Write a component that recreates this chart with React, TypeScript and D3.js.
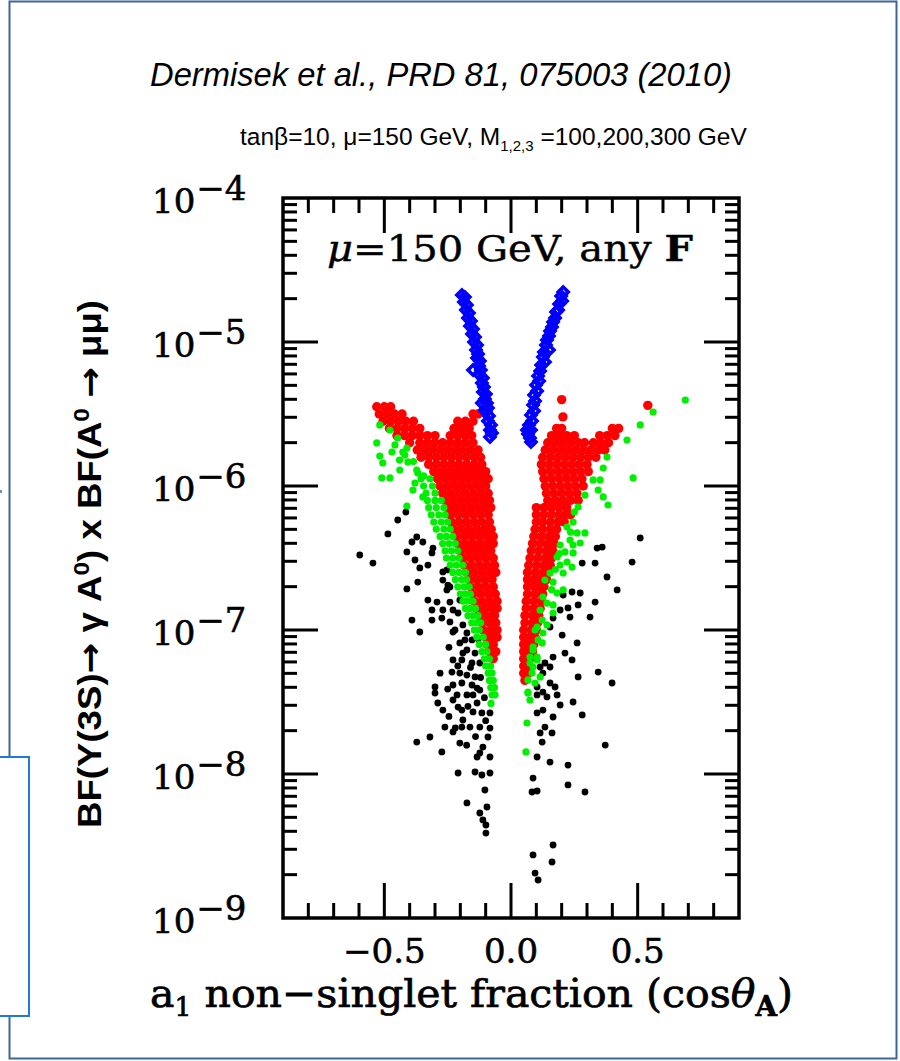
import React from 'react';
import * as d3 from 'd3';

// Each point: [cosθ_A, log10 of BF(Υ(3S)→γA0)×BF(A0→μμ)]
type Pt = [number, number];
// Dense bands are listed row by row: [log10 BF, cosθ_A values in that row]
type Row = [number, number[]];

// mu = 150 GeV scan, branch with the largest rates (blue diamonds)
const blueLeft: Pt[] = [
  [-0.194, -4.674], [-0.182, -4.688], [-0.186, -4.722], [-0.174, -4.743], [-0.178, -4.778],
  [-0.166, -4.799], [-0.170, -4.833], [-0.158, -4.854], [-0.162, -4.889], [-0.150, -4.910],
  [-0.154, -4.944], [-0.142, -4.965], [-0.146, -5.0], [-0.134, -5.021], [-0.138, -5.056],
  [-0.130, -5.083], [-0.134, -5.111], [-0.123, -5.132], [-0.126, -5.167], [-0.150, -5.194],
  [-0.119, -5.194], [-0.123, -5.229], [-0.111, -5.25], [-0.115, -5.285], [-0.107, -5.313],
  [-0.111, -5.347], [-0.099, -5.361], [-0.103, -5.396], [-0.115, -5.424], [-0.095, -5.424],
  [-0.091, -5.458], [-0.099, -5.486], [-0.087, -5.514], [-0.091, -5.549], [-0.079, -5.576],
  [-0.083, -5.611], [-0.075, -5.632], [-0.083, -5.660], [-0.103, -5.472],
];
const blueRight: Pt[] = [
  [0.206, -4.653], [0.198, -4.681], [0.202, -4.715], [0.190, -4.736], [0.186, -4.778],
  [0.178, -4.792], [0.174, -4.833], [0.166, -4.861], [0.162, -4.896], [0.154, -4.924],
  [0.150, -4.958], [0.142, -4.986], [0.138, -5.021], [0.150, -5.056], [0.130, -5.069],
  [0.126, -5.104], [0.134, -5.139], [0.119, -5.160], [0.115, -5.201], [0.107, -5.236],
  [0.111, -5.271], [0.099, -5.299], [0.103, -5.340], [0.091, -5.368], [0.095, -5.410],
  [0.087, -5.438], [0.091, -5.479], [0.079, -5.507], [0.083, -5.549], [0.071, -5.576],
  [0.079, -5.611], [0.067, -5.639], [0.075, -5.667], [0.079, -5.694], [0.063, -5.611],
];

// red points
const redLeftRows: Row[] = [
  [-5.45, [-0.53, -0.50, -0.475]],
  [-5.50, [-0.52, -0.49, -0.46, -0.43, -0.15, -0.13]],
  [-5.55, [-0.505, -0.475, -0.445, -0.415, -0.385, -0.21, -0.18, -0.15]],
  [-5.60, [-0.48, -0.45, -0.42, -0.39, -0.36, -0.225, -0.195, -0.165]],
  [-5.65, [-0.45, -0.42, -0.39, -0.36, -0.33, -0.30, -0.24, -0.21, -0.18, -0.155]],
  [-5.70, [-0.40, -0.36, -0.33, -0.30, -0.27, -0.24, -0.21, -0.18, -0.15]],
  [-5.75, [-0.37, -0.34, -0.31, -0.28, -0.25, -0.22, -0.19, -0.16, -0.13]],
  [-5.80, [-0.355, -0.325, -0.295, -0.265, -0.235, -0.205, -0.175, -0.145, -0.12]],
  [-5.85, [-0.325, -0.295, -0.265, -0.235, -0.205, -0.175, -0.145, -0.115]],
  [-5.90, [-0.305, -0.275, -0.245, -0.215, -0.185, -0.155, -0.125, -0.10]],
  [-5.95, [-0.29, -0.26, -0.23, -0.20, -0.17, -0.14, -0.11, -0.09]],
  [-6.00, [-0.28, -0.25, -0.22, -0.19, -0.16, -0.13, -0.10]],
  [-6.05, [-0.27, -0.24, -0.21, -0.18, -0.15, -0.12, -0.09]],
  [-6.10, [-0.26, -0.23, -0.20, -0.17, -0.14, -0.11, -0.085]],
  [-6.15, [-0.25, -0.22, -0.19, -0.16, -0.13, -0.10, -0.08]],
  [-6.20, [-0.24, -0.21, -0.18, -0.15, -0.12, -0.09]],
  [-6.25, [-0.235, -0.205, -0.175, -0.145, -0.115, -0.085]],
  [-6.30, [-0.225, -0.195, -0.165, -0.135, -0.105, -0.078]],
  [-6.35, [-0.215, -0.185, -0.155, -0.125, -0.095, -0.07]],
  [-6.40, [-0.21, -0.18, -0.15, -0.12, -0.09, -0.07]],
  [-6.45, [-0.20, -0.17, -0.14, -0.11, -0.08]],
  [-6.50, [-0.19, -0.16, -0.13, -0.10, -0.07]],
  [-6.55, [-0.185, -0.155, -0.125, -0.095, -0.065]],
  [-6.60, [-0.175, -0.145, -0.115, -0.085, -0.06]],
  [-6.65, [-0.165, -0.135, -0.105, -0.075]],
  [-6.70, [-0.16, -0.13, -0.10, -0.07]],
  [-6.75, [-0.15, -0.12, -0.09, -0.062]],
  [-6.80, [-0.145, -0.115, -0.085, -0.055]],
  [-6.85, [-0.135, -0.105, -0.075, -0.055]],
  [-6.90, [-0.125, -0.095, -0.065]],
  [-6.95, [-0.115, -0.085, -0.06]],
  [-7.00, [-0.11, -0.08, -0.055]],
  [-7.05, [-0.10, -0.075, -0.055]],
  [-7.10, [-0.095, -0.07]],
  [-7.15, [-0.085, -0.06]],
  [-7.20, [-0.07]],
];
const redRightRows: Row[] = [
  [-5.40, [0.20]],
  [-5.44, [0.54]],
  [-5.52, [0.205]],
  [-5.60, [0.18, 0.20, 0.40, 0.425]],
  [-5.65, [0.16, 0.19, 0.22, 0.25, 0.35, 0.38, 0.41]],
  [-5.70, [0.145, 0.175, 0.205, 0.235, 0.265, 0.29, 0.325, 0.355, 0.385]],
  [-5.75, [0.135, 0.165, 0.195, 0.225, 0.255, 0.285, 0.315, 0.345, 0.37]],
  [-5.80, [0.125, 0.155, 0.185, 0.215, 0.245, 0.275, 0.305, 0.335]],
  [-5.85, [0.12, 0.15, 0.18, 0.21, 0.24, 0.27, 0.30]],
  [-5.90, [0.125, 0.155, 0.185, 0.215, 0.245, 0.275, 0.305]],
  [-5.95, [0.13, 0.16, 0.19, 0.22, 0.25, 0.28]],
  [-6.00, [0.135, 0.165, 0.195, 0.225, 0.255, 0.285]],
  [-6.05, [0.14, 0.17, 0.20, 0.23, 0.26]],
  [-6.10, [0.145, 0.175, 0.205, 0.235, 0.265]],
  [-6.15, [0.10, 0.13, 0.16, 0.19, 0.22]],
  [-6.20, [0.10, 0.13, 0.16, 0.19, 0.215, 0.235]],
  [-6.25, [0.10, 0.125, 0.155, 0.185, 0.21]],
  [-6.30, [0.095, 0.125, 0.155, 0.18]],
  [-6.35, [0.09, 0.12, 0.15, 0.175]],
  [-6.40, [0.085, 0.115, 0.145, 0.17]],
  [-6.45, [0.08, 0.11, 0.14, 0.165]],
  [-6.50, [0.075, 0.105, 0.135, 0.16]],
  [-6.55, [0.07, 0.10, 0.13, 0.155]],
  [-6.60, [0.065, 0.095, 0.125, 0.145]],
  [-6.65, [0.065, 0.09, 0.115, 0.14]],
  [-6.70, [0.065, 0.09, 0.115, 0.13]],
  [-6.75, [0.065, 0.095, 0.125]],
  [-6.80, [0.06, 0.09, 0.12]],
  [-6.85, [0.06, 0.09, 0.115]],
  [-6.90, [0.055, 0.085, 0.11]],
  [-6.95, [0.055, 0.085, 0.105]],
  [-7.00, [0.05, 0.08, 0.10]],
  [-7.05, [0.05, 0.075, 0.095]],
  [-7.10, [0.05, 0.075, 0.09]],
  [-7.15, [0.05, 0.075, 0.085]],
  [-7.20, [0.05, 0.075]],
  [-7.25, [0.05, 0.072]],
  [-7.30, [0.05, 0.068]],
  [-7.35, [0.055]],
];

// green points
const greenLeftRows: Row[] = [
  [-5.95, [-0.355, -0.32]],
  [-6.00, [-0.345, -0.31]],
  [-6.05, [-0.335, -0.30]],
  [-6.10, [-0.33, -0.30, -0.275]],
  [-6.15, [-0.325, -0.295, -0.265]],
  [-6.20, [-0.315, -0.285, -0.26]],
  [-6.25, [-0.305, -0.275, -0.25]],
  [-6.30, [-0.295, -0.265, -0.24]],
  [-6.35, [-0.28, -0.255, -0.23]],
  [-6.40, [-0.27, -0.245, -0.22]],
  [-6.45, [-0.26, -0.235, -0.21]],
  [-6.50, [-0.255, -0.23, -0.205]],
  [-6.55, [-0.24, -0.215, -0.19]],
  [-6.60, [-0.23, -0.205, -0.18]],
  [-6.65, [-0.22, -0.195, -0.175]],
  [-6.70, [-0.21, -0.185, -0.165]],
  [-6.75, [-0.20, -0.18, -0.16]],
  [-6.80, [-0.19, -0.17, -0.15]],
  [-6.85, [-0.18, -0.16, -0.14]],
  [-6.90, [-0.17, -0.15, -0.13]],
  [-6.95, [-0.155, -0.135, -0.12]],
  [-7.00, [-0.145, -0.125]],
  [-7.05, [-0.135, -0.11]],
  [-7.10, [-0.125, -0.10]],
  [-7.15, [-0.115, -0.095]],
  [-7.20, [-0.105, -0.085]],
  [-7.25, [-0.10, -0.08]],
  [-7.30, [-0.09, -0.075]],
  [-7.35, [-0.085, -0.07]],
  [-7.40, [-0.08, -0.065]],
  [-7.45, [-0.075, -0.063]],
  [-7.51, [-0.079]],
];
const greenLeft: Pt[] = [
  [-0.518, -5.576], [-0.530, -5.701], [-0.518, -5.792], [-0.506, -5.840], [-0.510, -5.944],
  [-0.478, -5.944], [-0.470, -5.764], [-0.447, -5.667], [-0.411, -5.736], [-0.419, -5.785],
  [-0.439, -5.889], [-0.407, -5.833], [-0.372, -5.889], [-0.379, -5.979], [-0.387, -6.028],
  [-0.411, -6.139], [-0.348, -6.076], [-0.478, -5.611], [-0.458, -5.715], [-0.427, -5.764],
  [-0.368, -5.910], [-0.385, -5.83], [-0.345, -5.93], [-0.44, -5.82],
];
const greenRight: Pt[] = [
  [0.688, -5.403], [0.561, -5.486], [0.510, -5.576], [0.458, -5.681], [0.482, -5.944],
  [0.379, -5.799], [0.364, -5.875], [0.352, -5.958], [0.324, -5.958], [0.292, -6.063],
  [0.344, -6.028], [0.364, -6.076], [0.383, -6.132], [0.265, -6.146], [0.245, -6.250],
  [0.221, -6.285], [0.261, -6.326], [0.292, -6.326], [0.233, -6.375], [0.194, -6.410],
  [0.245, -6.410], [0.273, -6.396], [0.213, -6.458], [0.245, -6.465], [0.182, -6.493],
  [0.221, -6.528], [0.194, -6.549], [0.241, -6.563], [0.154, -6.604], [0.206, -6.604],
  [0.166, -6.667], [0.134, -6.653], [0.206, -6.722], [0.182, -6.743], [0.126, -6.771],
  [0.142, -6.813], [0.166, -6.826], [0.115, -6.861], [0.166, -6.882], [0.123, -6.931],
  [0.142, -6.965], [0.095, -7.0], [0.126, -7.021], [0.107, -7.069], [0.087, -7.118],
  [0.123, -7.090], [0.075, -7.188], [0.103, -7.188], [0.087, -7.257], [0.115, -7.326],
  [0.067, -7.347], [0.095, -7.368], [0.067, -7.438], [0.075, -7.486], [0.063, -7.646],
  [0.059, -7.847], [0.103, -6.979], [0.087, -7.139], [0.075, -7.229], [0.103, -7.208],
  [0.083, -7.299], [0.067, -7.431], [0.25, -6.18], [0.235, -6.32], [0.19, -6.47],
  [0.175, -6.58], [0.16, -6.72],
];

// black points
const blackLeft: Pt[] = [
  [-0.597, -6.479], [-0.545, -6.535], [-0.486, -6.333], [-0.447, -6.236], [-0.415, -6.181],
  [-0.411, -6.458], [-0.391, -6.389], [-0.372, -6.354], [-0.348, -6.389], [-0.308, -6.431],
  [-0.312, -6.465], [-0.379, -6.514], [-0.360, -6.569], [-0.328, -6.549], [-0.368, -6.667],
  [-0.411, -6.715], [-0.269, -6.597], [-0.269, -6.653], [-0.241, -6.701], [-0.253, -6.722],
  [-0.328, -6.792], [-0.292, -6.806], [-0.241, -6.806], [-0.202, -6.792], [-0.312, -6.861],
  [-0.269, -6.861], [-0.229, -6.861], [-0.209, -6.882], [-0.391, -6.931], [-0.312, -6.931],
  [-0.273, -6.917], [-0.360, -7.014], [-0.253, -6.583], [-0.249, -6.688], [-0.241, -6.944],
  [-0.190, -6.965], [-0.229, -7.014], [-0.174, -7.021], [-0.154, -7.069], [-0.202, -7.090],
  [-0.174, -7.139], [-0.190, -7.160], [-0.229, -7.208], [-0.154, -7.229], [-0.233, -7.292],
  [-0.202, -7.299], [-0.174, -7.313], [-0.142, -7.326], [-0.300, -7.396], [-0.300, -7.438],
  [-0.229, -7.382], [-0.194, -7.368], [-0.154, -7.382], [-0.134, -7.403], [-0.213, -7.451],
  [-0.174, -7.451], [-0.150, -7.451], [-0.123, -7.417], [-0.289, -7.507], [-0.229, -7.486],
  [-0.209, -7.535], [-0.134, -7.507], [-0.269, -7.556], [-0.150, -7.569], [-0.115, -7.576],
  [-0.083, -7.576], [-0.190, -7.625], [-0.261, -7.674], [-0.194, -7.674], [-0.162, -7.674],
  [-0.123, -7.674], [-0.083, -7.681], [-0.229, -7.708], [-0.091, -7.743], [-0.372, -7.778],
  [-0.320, -7.743], [-0.202, -7.785], [-0.273, -7.847], [-0.111, -7.813], [-0.134, -7.882],
  [-0.083, -7.882], [-0.209, -7.993], [-0.142, -7.986], [-0.115, -8.007], [-0.083, -7.993],
  [-0.103, -8.111], [-0.174, -8.201], [-0.095, -8.229], [-0.123, -8.271], [-0.111, -8.319],
  [-0.099, -8.354], [-0.099, -8.410], [-0.221, -7.0], [-0.194, -7.208], [-0.123, -7.229],
  [-0.142, -7.160], [-0.194, -7.556], [-0.123, -7.854], [-0.182, -7.069], [-0.245, -7.12],
  [-0.21, -7.25], [-0.16, -7.26], [-0.12, -7.33], [-0.105, -7.47], [-0.245, -7.60],
  [-0.17, -7.53], [-0.10, -7.63], [-0.14, -7.74], [-0.175, -7.80], [-0.25, -7.41],
  [-0.28, -7.30], [-0.13, -7.06], [-0.22, -7.68],
];
const blackRight: Pt[] = [
  [0.510, -6.361], [0.478, -6.528], [0.340, -6.431], [0.360, -6.424], [0.281, -6.535],
  [0.332, -6.535], [0.379, -6.632], [0.419, -6.722], [0.241, -6.736], [0.273, -6.743],
  [0.206, -6.757], [0.332, -6.806], [0.265, -6.826], [0.225, -6.847], [0.194, -6.861],
  [0.233, -6.910], [0.312, -6.910], [0.166, -6.917], [0.154, -6.979], [0.202, -7.035],
  [0.261, -7.090], [0.213, -7.160], [0.241, -7.208], [0.166, -7.188], [0.134, -7.229],
  [0.154, -7.257], [0.115, -7.257], [0.126, -7.299], [0.265, -7.326], [0.344, -7.292],
  [0.399, -7.368], [0.154, -7.368], [0.174, -7.396], [0.103, -7.396], [0.126, -7.431],
  [0.182, -7.451], [0.103, -7.451], [0.142, -7.465], [0.245, -7.500], [0.194, -7.521],
  [0.103, -7.576], [0.126, -7.556], [0.281, -7.590], [0.166, -7.604], [0.134, -7.674],
  [0.115, -7.715], [0.162, -7.715], [0.123, -7.778], [0.372, -7.799], [0.103, -7.882],
  [0.154, -7.917], [0.225, -7.938], [0.225, -8.076], [0.087, -8.028], [0.083, -8.125],
  [0.103, -8.118], [0.292, -8.125], [0.087, -8.562], [0.166, -8.493], [0.162, -8.611],
  [0.095, -8.688], [0.107, -8.736],
];

const xTickValues = [-0.5, 0, 0.5];
const xTickLabels = ['\u22120.5', '0.0', '0.5'];
const yDecadeExponents = [-4, -5, -6, -7, -8, -9];

const fromRows = (rows: Row[]): Pt[] =>
  rows.flatMap(([e, xs]) => xs.map((v) => [v, e] as Pt));

const PLOT = { left: 283, right: 739, top: 198, bottom: 918 };
const SERIF = "'DejaVu Serif', serif";
const SANS = "'Liberation Sans', Arial, sans-serif";
const ARROW = "'DejaVu Sans', sans-serif";

export default function App() {
  const x = d3.scaleLinear().domain([-0.9, 0.9]).range([PLOT.left, PLOT.right]);
  const y = d3.scaleLog().domain([1e-9, 1e-4]).range([PLOT.bottom, PLOT.top]);
  const px = (p: Pt) => x(p[0]);
  const py = (p: Pt) => y(Math.pow(10, p[1]));

  const black = [...blackLeft, ...blackRight];
  const red = [...fromRows(redLeftRows), ...fromRows(redRightRows)];
  const green = [...fromRows(greenLeftRows), ...greenLeft, ...greenRight];
  const blue = [...blueLeft, ...blueRight];
  const diamond = d3.symbol().type(d3.symbolSquare).size(50)() as string;

  const yMinor = d3.range(-9, -4).flatMap((k) => d3.range(2, 10).map((m) => m * Math.pow(10, k)));
  const yMajor = d3.range(-8, -4).map((k) => Math.pow(10, k));
  const xMinor = d3.range(-8, 9).filter((i) => i % 5 !== 0).map((i) => i / 10);

  const MAJ = 35;
  const MIN = 14;

  return (
    <svg width={900} height={1061} style={{ position: 'absolute', left: 0, top: 0, background: '#fff' }}>
      <rect x={0} y={0} width={900} height={1061} fill="#fff" />
      {/* slide frame */}
      <rect x={9.5} y={1.5} width={887} height={1057} fill="none" stroke="#3f6699" strokeWidth={2} />
      <rect x={-2} y={757} width={31} height={259} fill="#fff" stroke="#1f7bd0" strokeWidth={2} />
      <rect x={0} y={490} width={2} height={3} fill="#6f8fb8" />

      {/* header */}
      <text x={150} y={86} fontFamily={SANS} fontStyle="italic" fontSize={33} textLength={582} lengthAdjust="spacingAndGlyphs">
        Dermisek et al., PRD 81, 075003 (2010)
      </text>
      <text x={240} y={145} fontFamily={SANS} fontSize={24.5}>
        tanβ=10, μ=150 GeV, M<tspan fontSize={15} dy={6}>1,2,3</tspan>
        <tspan fontSize={24.5} dy={-6}> =100,200,300 GeV</tspan>
      </text>

      {/* points */}
      <g fill="#000">
        {black.map((p, i) => <circle key={`k${i}`} cx={px(p)} cy={py(p)} r={3.4} />)}
      </g>
      <g fill="#ff0000">
        {red.map((p, i) => <circle key={`r${i}`} cx={px(p)} cy={py(p)} r={4.7} />)}
      </g>
      <g fill="#00ee00">
        {green.map((p, i) => <circle key={`g${i}`} cx={px(p)} cy={py(p)} r={3.6} />)}
      </g>
      <g fill="none" stroke="#0000ff" strokeWidth={3.6}>
        {blue.map((p, i) => (
          <path key={`b${i}`} d={diamond} transform={`translate(${px(p)},${py(p)}) rotate(45)`} />
        ))}
      </g>

      {/* axes frame and ticks */}
      <g stroke="#000" strokeWidth={3} fill="none">
        {yMinor.map((v, i) => (
          <g key={`ym${i}`}>
            <line x1={PLOT.left} x2={PLOT.left + MIN} y1={y(v)} y2={y(v)} />
            <line x1={PLOT.right} x2={PLOT.right - MIN} y1={y(v)} y2={y(v)} />
          </g>
        ))}
        {yMajor.map((v, i) => (
          <g key={`yM${i}`}>
            <line x1={PLOT.left} x2={PLOT.left + MAJ} y1={y(v)} y2={y(v)} />
            <line x1={PLOT.right} x2={PLOT.right - MAJ} y1={y(v)} y2={y(v)} />
          </g>
        ))}
        {xMinor.map((v, i) => (
          <g key={`xm${i}`}>
            <line x1={x(v)} x2={x(v)} y1={PLOT.bottom} y2={PLOT.bottom - MIN - 1} />
            <line x1={x(v)} x2={x(v)} y1={PLOT.top} y2={PLOT.top + MIN + 1} />
          </g>
        ))}
        {xTickValues.map((v, i) => (
          <g key={`xM${i}`}>
            <line x1={x(v)} x2={x(v)} y1={PLOT.bottom} y2={PLOT.bottom - MAJ} />
            <line x1={x(v)} x2={x(v)} y1={PLOT.top} y2={PLOT.top + MAJ} />
          </g>
        ))}
        <rect x={PLOT.left} y={PLOT.top} width={PLOT.right - PLOT.left} height={PLOT.bottom - PLOT.top} strokeWidth={3.5} />
      </g>

      {/* y tick labels */}
      {yDecadeExponents.map((k) => (
        <text key={`yl${k}`} x={152} y={y(Math.pow(10, k)) + 15} fontFamily={SERIF} fontSize={34}
          fill="#000" stroke="#000" strokeWidth={0.6}>
          10<tspan dx={1} dy={-13}>{`\u2212${-k}`}</tspan>
        </text>
      ))}

      {/* x tick labels */}
      {xTickValues.map((v, i) => (
        <text key={`xl${i}`} x={x(v)} y={963} textAnchor="middle" fontFamily={SERIF} fontSize={34}
          fill="#000" stroke="#000" strokeWidth={0.6}>
          {xTickLabels[i]}
        </text>
      ))}

      {/* in-frame label */}
      <text x={327} y={261} fontFamily={SERIF} fontSize={35} textLength={366} lengthAdjust="spacingAndGlyphs"
        fill="#000" stroke="#000" strokeWidth={0.4}>
        <tspan fontStyle="italic">μ</tspan>=150 GeV, any <tspan fontWeight="bold">F</tspan>
      </text>

      {/* axis titles */}
      <text x={150} y={1007} fontFamily={SERIF} fontSize={40} textLength={643} lengthAdjust="spacingAndGlyphs"
        fill="#000" stroke="#000" strokeWidth={0.7}>
        a<tspan fontSize={26} dy={9}>1</tspan>
        <tspan dy={-9}> non−singlet fraction (cos</tspan>
        <tspan fontStyle="italic">θ</tspan>
        <tspan fontSize={27} fontWeight="bold" dy={9}>A</tspan>
        <tspan dy={-9}>)</tspan>
      </text>
      <text
        transform="translate(101,564) rotate(-90)"
        textAnchor="middle"
        fontFamily={SANS}
        fontWeight="bold"
        fontSize={33}
        textLength={528}
        lengthAdjust="spacingAndGlyphs"
        fill="#000"
      >
        BF(Υ(3S)<tspan fontFamily={ARROW}>→</tspan> γ A<tspan fontSize={22} dy={-12}>0</tspan>
        <tspan dy={12}>) x BF(A</tspan>
        <tspan fontSize={22} dy={-12}>0</tspan>
        <tspan dy={12}> </tspan>
        <tspan fontFamily={ARROW}>→</tspan>
        <tspan> μμ)</tspan>
      </text>
    </svg>
  );
}
